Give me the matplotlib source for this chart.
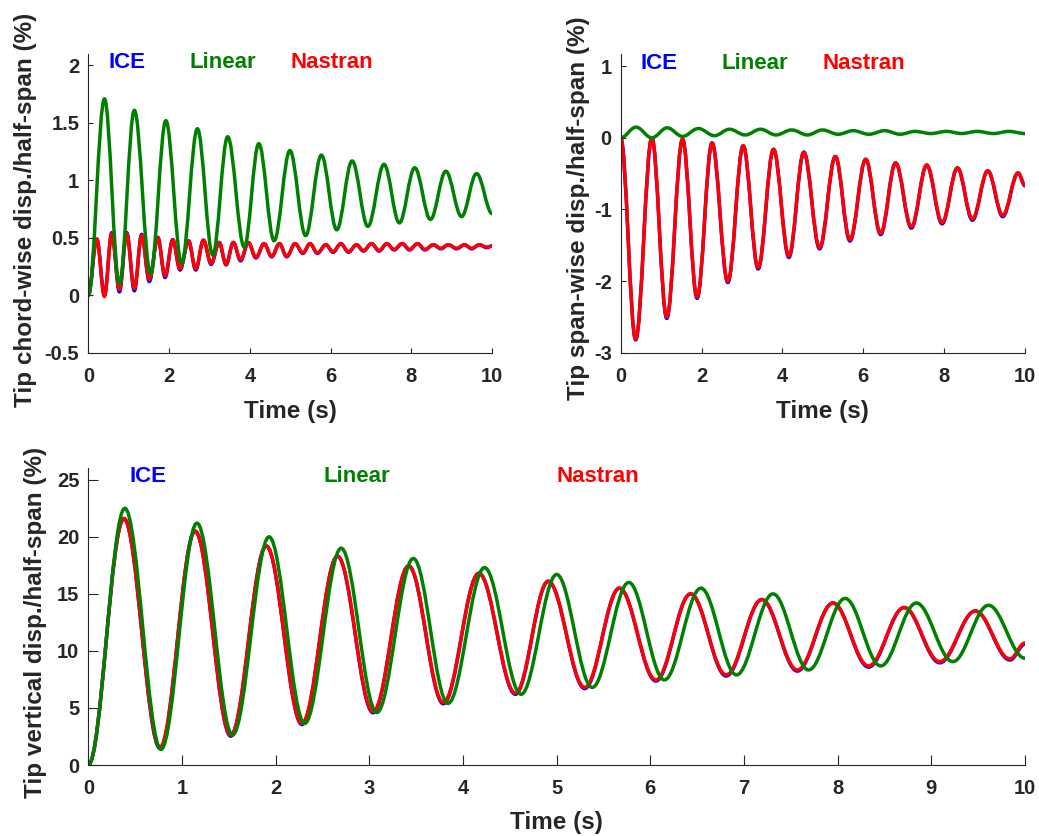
import numpy as np
import matplotlib
matplotlib.use("Agg")
from matplotlib import pyplot as plt
from matplotlib.path import Path
from matplotlib.patches import PathPatch

plt.rcParams['font.family'] = ['Liberation Sans', 'DejaVu Sans']
plt.rcParams['font.weight'] = 'bold'
plt.rcParams['axes.unicode_minus'] = False

# Extremos (picos e vales): tempo (s) e deslocamento (%)
# --- chord-wise ---
chord_lin_t = [0, 0.40, 0.77, 1.14, 1.54, 1.92, 2.31, 2.70, 3.08, 3.45, 3.86, 4.22, 4.60, 4.99,
               5.38, 5.77, 6.15, 6.53, 6.92, 7.32, 7.70, 8.08, 8.47, 8.85, 9.24, 9.61, 10.0]
chord_lin_y = [0, 1.71, 0.10, 1.61, 0.19, 1.52, 0.28, 1.45, 0.35, 1.38, 0.42, 1.32, 0.475, 1.26,
               0.52, 1.22, 0.57, 1.17, 0.60, 1.14, 0.63, 1.11, 0.66, 1.08, 0.685, 1.06, 0.71]
chord_nas_t = [0, 0.21, 0.40, 0.58, 0.77, 0.95, 1.14, 1.32, 1.51, 1.72, 1.90, 2.09, 2.27, 2.48,
               2.66, 2.85, 3.04, 3.24, 3.41, 3.59, 3.77, 3.96, 4.15, 4.35, 4.54, 4.73, 4.91, 5.12,
               5.31, 5.49, 5.67, 5.88, 6.06, 6.25, 6.44, 6.64, 6.81, 7.01, 7.20, 7.39, 7.57, 7.77,
               7.95, 8.15, 8.33, 8.54, 8.73, 8.91, 9.12, 9.31, 9.49, 9.68, 9.86, 10.0]
chord_nas_y = [0, 0.49, -0.01, 0.535, 0.05, 0.535, 0.06, 0.52, 0.14, 0.50, 0.17, 0.48, 0.23, 0.47,
               0.23, 0.48, 0.28, 0.46, 0.27, 0.46, 0.31, 0.46, 0.33, 0.45, 0.34, 0.45, 0.34, 0.45,
               0.37, 0.45, 0.37, 0.44, 0.38, 0.45, 0.38, 0.44, 0.39, 0.45, 0.39, 0.45, 0.40, 0.45,
               0.40, 0.45, 0.40, 0.44, 0.41, 0.44, 0.41, 0.44, 0.41, 0.44, 0.42, 0.43]
chord_ice_t = chord_nas_t
chord_ice_y = [0, 0.49, 0.0, 0.545, 0.03, 0.545, 0.04, 0.53, 0.12, 0.505, 0.155, 0.485, 0.22, 0.475,
               0.22, 0.48, 0.27, 0.46, 0.265, 0.46, 0.30, 0.46, 0.325, 0.45, 0.335, 0.45, 0.335, 0.45,
               0.365, 0.45, 0.365, 0.44, 0.375, 0.45, 0.375, 0.44, 0.385, 0.45, 0.385, 0.45, 0.395, 0.45,
               0.395, 0.45, 0.395, 0.44, 0.405, 0.44, 0.405, 0.44, 0.405, 0.44, 0.415, 0.43]

# --- span-wise ---
span_lin_t = [0, 0.38, 0.77, 1.15, 1.53, 1.92, 2.32, 2.69, 3.08, 3.46, 3.84, 4.23, 4.62, 4.99,
              5.38, 5.75, 6.14, 6.53, 6.91, 7.28, 7.67, 8.06, 8.43, 8.82, 9.22, 9.60, 10.0]
span_lin_y = [0, 0.15, 0.0, 0.14, 0.02, 0.13, 0.03, 0.12, 0.04, 0.12, 0.04, 0.11, 0.04, 0.11,
              0.05, 0.10, 0.05, 0.10, 0.05, 0.09, 0.06, 0.09, 0.06, 0.09, 0.06, 0.09, 0.06]
span_nas_t = [0, 0.37, 0.77, 1.14, 1.53, 1.89, 2.26, 2.65, 3.03, 3.40, 3.78, 4.16, 4.53, 4.92,
              5.31, 5.67, 6.06, 6.43, 6.80, 7.19, 7.57, 7.95, 8.33, 8.70, 9.08, 9.45, 9.83, 10.0]
span_nas_y = [0, -2.81, 0.0, -2.50, -0.02, -2.22, -0.07, -2.0, -0.11, -1.81, -0.16, -1.65, -0.20, -1.53,
              -0.26, -1.42, -0.30, -1.33, -0.35, -1.24, -0.38, -1.18, -0.42, -1.13, -0.46, -1.08, -0.49, -0.66]
span_ice_t = span_nas_t
span_ice_y = [0, -2.82, 0.0, -2.52, -0.02, -2.24, -0.07, -2.02, -0.11, -1.83, -0.16, -1.67, -0.20, -1.55,
              -0.26, -1.44, -0.30, -1.35, -0.35, -1.26, -0.38, -1.20, -0.42, -1.15, -0.46, -1.10, -0.49, -0.67]

# --- vertical ---
vert_lin_t = [0, 0.39, 0.776, 1.16, 1.54, 1.93, 2.31, 2.70, 3.08, 3.47, 3.84, 4.23, 4.62, 5.00,
              5.38, 5.77, 6.15, 6.54, 6.92, 7.31, 7.69, 8.08, 8.46, 8.84, 9.23, 9.61, 10.0]
vert_lin_y = [0, 22.5, 1.37, 21.2, 2.63, 20.0, 3.65, 19.0, 4.6, 18.1, 5.4, 17.3, 6.2, 16.7,
              6.8, 16.0, 7.46, 15.5, 7.9, 15.0, 8.33, 14.6, 8.68, 14.2, 9.06, 14.0, 9.36]
vert_nas_t = [0, 0.38, 0.765, 1.14, 1.52, 1.90, 2.28, 2.66, 3.04, 3.42, 3.79, 4.17, 4.56, 4.91,
              5.30, 5.67, 6.06, 6.43, 6.81, 7.19, 7.57, 7.95, 8.33, 8.71, 9.09, 9.47, 9.84, 10.0]
vert_nas_y = [0, 21.6, 1.55, 20.5, 2.63, 19.2, 3.65, 18.3, 4.68, 17.45, 5.47, 16.8, 6.3, 16.1,
              6.8, 15.5, 7.46, 15.0, 7.9, 14.5, 8.33, 14.2, 8.68, 13.8, 9.06, 13.5, 9.3, 10.7]
vert_ice_t = vert_nas_t
vert_ice_y = [0, 21.6, 1.45, 20.5, 2.53, 19.2, 3.55, 18.3, 4.58, 17.45, 5.37, 16.8, 6.2, 16.1,
              6.7, 15.5, 7.36, 15.0, 7.8, 14.5, 8.23, 14.2, 8.58, 13.8, 8.96, 13.5, 9.2, 10.6]

BLUE, GREEN, RED = (0, 0, 1), (0, 0.5, 0), (1, 0, 0)
AX_COLOR = '0.15'
K = 0.363  # controle da curva de Bezier entre extremos (tangente horizontal)


def wave(ax, t, y, color, lw=2.5):
    # liga os extremos com curvas de Bezier cubicas desenhadas pelo proprio matplotlib
    verts = [(t[0], y[0])]
    codes = [Path.MOVETO]
    for i in range(1, len(t)):
        dt = t[i] - t[i - 1]
        verts += [(t[i - 1] + K * dt, y[i - 1]), (t[i] - K * dt, y[i]), (t[i], y[i])]
        codes += [Path.CURVE4] * 3
    ax.add_patch(PathPatch(Path(verts, codes), fill=False, edgecolor=color, lw=lw,
                           capstyle='round', joinstyle='round'))


def style(ax, ticklen):
    for s in ['top', 'right']:
        ax.spines[s].set_visible(False)
    for s in ['left', 'bottom']:
        ax.spines[s].set_color(AX_COLOR)
        ax.spines[s].set_linewidth(0.8)
    ax.tick_params(direction='in', length=ticklen, width=0.8, color=AX_COLOR,
                   labelcolor=AX_COLOR, labelsize=14.5)
    ax.tick_params(axis='x', pad=10)
    ax.tick_params(axis='y', pad=6.5)
    for lab in ax.get_xticklabels() + ax.get_yticklabels():
        lab.set_fontweight('bold')


fig = plt.figure(figsize=(10.39, 8.36), dpi=100)

# chord-wise
ax1 = fig.add_axes([0.085, 0.578, 0.3888, 0.3574])
wave(ax1, chord_ice_t, chord_ice_y, BLUE)
wave(ax1, chord_nas_t, chord_nas_y, RED)
wave(ax1, chord_lin_t, chord_lin_y, GREEN)
ax1.set_xlim(0, 10)
ax1.set_ylim(-0.5, 2.1)
ax1.set_xticks([0, 2, 4, 6, 8, 10])
ax1.set_yticks([-0.5, 0, 0.5, 1, 1.5, 2])
ax1.set_yticklabels(['-0.5', '0', '0.5', '1', '1.5', '2'])
style(ax1, 3.5)
ax1.set_xlabel('Time (s)', fontsize=17.5, fontweight='bold', color=AX_COLOR)
ax1.set_ylabel('Tip chord-wise disp./half-span (%)', fontsize=17.5, fontweight='bold', color=AX_COLOR)
ax1.xaxis.set_label_coords(0.5, -0.158)
ax1.yaxis.set_label_coords(-0.128, 0.478)
ax1.text(0.96, 2.03, 'ICE', color=BLUE, fontsize=16, fontweight='bold', ha='center', va='center')
ax1.text(3.34, 2.03, 'Linear', color=GREEN, fontsize=16, fontweight='bold', ha='center', va='center')
ax1.text(6.03, 2.03, 'Nastran', color=RED, fontsize=16, fontweight='bold', ha='center', va='center')

# span-wise
ax2 = fig.add_axes([0.5974, 0.578, 0.3891, 0.3574])
wave(ax2, span_ice_t, span_ice_y, BLUE)
wave(ax2, span_nas_t, span_nas_y, RED)
wave(ax2, span_lin_t, span_lin_y, GREEN)
ax2.set_xlim(0, 10)
ax2.set_ylim(-3, 1.17)
ax2.set_xticks([0, 2, 4, 6, 8, 10])
ax2.set_yticks([-3, -2, -1, 0, 1])
style(ax2, 3.5)
ax2.set_xlabel('Time (s)', fontsize=17.5, fontweight='bold', color=AX_COLOR)
ax2.set_ylabel('Tip span-wise disp./half-span (%)', fontsize=17.5, fontweight='bold', color=AX_COLOR)
ax2.xaxis.set_label_coords(0.5, -0.158)
ax2.yaxis.set_label_coords(-0.075, 0.484)
ax2.text(0.95, 1.04, 'ICE', color=BLUE, fontsize=16, fontweight='bold', ha='center', va='center')
ax2.text(3.32, 1.04, 'Linear', color=GREEN, fontsize=16, fontweight='bold', ha='center', va='center')
ax2.text(6.02, 1.04, 'Nastran', color=RED, fontsize=16, fontweight='bold', ha='center', va='center')

# vertical
ax3 = fig.add_axes([0.085, 0.0849, 0.9015, 0.3549])
wave(ax3, vert_ice_t, vert_ice_y, BLUE)
wave(ax3, vert_nas_t, vert_nas_y, RED)
wave(ax3, vert_lin_t, vert_lin_y, GREEN)
ax3.set_xlim(0, 10)
ax3.set_ylim(0, 26)
ax3.set_xticks(np.arange(0, 11, 1))
ax3.set_yticks([0, 5, 10, 15, 20, 25])
style(ax3, 7)
ax3.set_xlabel('Time (s)', fontsize=17.5, fontweight='bold', color=AX_COLOR)
ax3.set_ylabel('Tip vertical disp./half-span (%)', fontsize=17.5, fontweight='bold', color=AX_COLOR)
ax3.xaxis.set_label_coords(0.5, -0.155)
ax3.yaxis.set_label_coords(-0.044, 0.48)
ax3.text(0.64, 25.26, 'ICE', color=BLUE, fontsize=16, fontweight='bold', ha='center', va='center')
ax3.text(2.87, 25.26, 'Linear', color=GREEN, fontsize=16, fontweight='bold', ha='center', va='center')
ax3.text(5.44, 25.26, 'Nastran', color=RED, fontsize=16, fontweight='bold', ha='center', va='center')

fig.savefig('out.png', dpi=100)
